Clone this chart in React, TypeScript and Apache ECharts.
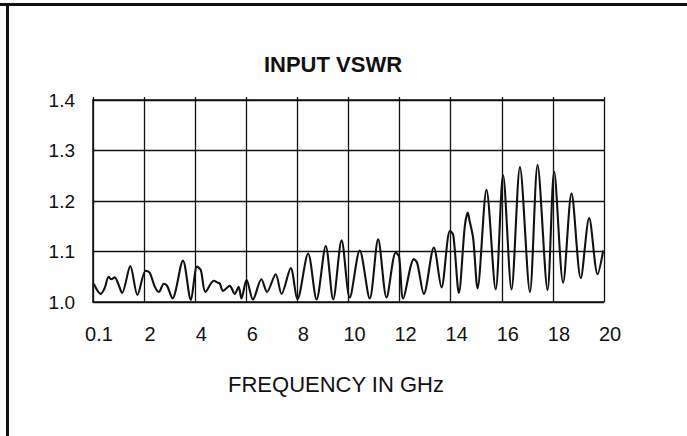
import React, { useEffect, useRef } from "react";
import * as echarts from "echarts";

const titleText = "INPUT VSWR";
const xAxisTitle = "FREQUENCY IN GHz";
const xTicks = [0, 2, 4, 6, 8, 10, 12, 14, 16, 18, 20];
const xTickLabels = ["0.1", "2", "4", "6", "8", "10", "12", "14", "16", "18", "20"];
const yTickLabels = ["1.0", "1.1", "1.2", "1.3", "1.4"];

// frequency (GHz, first grid line = 0.1 GHz) and VSWR
const freqGHz = [
  0.03, 0.3, 0.46, 0.61, 0.72, 0.85, 0.98, 1.14, 1.46, 1.74,
  2.06, 2.22, 2.42, 2.58, 2.77, 2.9, 3.11, 3.52, 3.83, 4.07,
  4.22, 4.4, 4.73, 4.89, 4.96, 5.09, 5.35, 5.55, 5.7, 5.81,
  6.01, 6.26, 6.59, 6.81, 7.15, 7.38, 7.74, 8.0, 8.42, 8.75,
  9.11, 9.4, 9.73, 10.05, 10.44, 10.83, 11.16, 11.49, 11.85, 11.98,
  12.14, 12.56, 12.69, 12.95, 13.34, 13.64, 13.97, 14.1, 14.32, 14.55,
  14.67, 14.73, 14.88, 15.05, 15.4, 15.76, 16.05, 16.38, 16.71, 17.1,
  17.4, 17.79, 18.05, 18.4, 18.73, 19.09, 19.42, 19.75, 19.97,
];
const vswr = [
  1.036, 1.016, 1.028, 1.05, 1.045, 1.049, 1.037, 1.018, 1.071, 1.014,
  1.062, 1.058, 1.03, 1.02, 1.036, 1.032, 1.007, 1.082, 1.004, 1.07,
  1.063, 1.02, 1.042, 1.038, 1.037, 1.022, 1.032, 1.016, 1.03, 1.007,
  1.044, 1.005, 1.045, 1.02, 1.055, 1.016, 1.067, 1.005, 1.096, 1.005,
  1.111, 1.005, 1.122, 1.009, 1.102, 1.007, 1.124, 1.009, 1.098, 1.09,
  1.007, 1.085, 1.077, 1.016, 1.108, 1.029, 1.141, 1.133, 1.018, 1.149,
  1.177, 1.163, 1.126, 1.027, 1.222, 1.025, 1.251, 1.025, 1.267, 1.02,
  1.271, 1.024, 1.258, 1.038, 1.215, 1.047, 1.166, 1.055, 1.102,
];

const FONT = "'Liberation Sans', Arial, sans-serif";
const INK = "#111";

export default function App() {
  const ref = useRef<HTMLDivElement>(null);

  useEffect(() => {
    if (!ref.current) return;
    const chart = echarts.init(ref.current, null, { renderer: "svg" });
    const data = freqGHz.map((f, i) => [f, vswr[i]]);
    const xLabel = (v: number) => {
      const idx = xTicks.indexOf(v);
      return idx >= 0 ? xTickLabels[idx] : "";
    };
    chart.setOption({
      animation: false,
      backgroundColor: "#fff",
      grid: { left: 93, top: 100, width: 511, height: 202, containLabel: false },
      xAxis: [
        {
          type: "value",
          min: 0,
          max: 20,
          interval: 2,
          position: "bottom",
          axisLine: { show: true, lineStyle: { color: INK, width: 1.5 } },
          axisTick: { show: false },
          splitLine: { show: true, lineStyle: { color: INK, width: 1.3 } },
          axisLabel: {
            formatter: xLabel,
            color: INK,
            fontSize: 20,
            fontFamily: FONT,
            margin: 22,
            padding: [0, 0, 0, 12],
            showMinLabel: true,
            showMaxLabel: true,
          },
        },
        {
          type: "value",
          min: 0,
          max: 20,
          interval: 2,
          position: "top",
          axisLine: { show: true, lineStyle: { color: INK, width: 1.5 } },
          axisTick: { show: true, length: 3, lineStyle: { color: INK, width: 1.3 } },
          axisLabel: { show: false },
          splitLine: { show: false },
        },
      ],
      yAxis: {
        type: "value",
        min: 1.0,
        max: 1.4,
        interval: 0.1,
        axisLine: { show: true, lineStyle: { color: INK, width: 1.5 } },
        axisTick: { show: false },
        splitLine: { show: true, lineStyle: { color: INK, width: 1.3 } },
        axisLabel: {
          formatter: (v: number) => {
            const i = Math.round((v - 1.0) / 0.1);
            return yTickLabels[i] ?? "";
          },
          color: INK,
          fontSize: 19,
          fontFamily: FONT,
          margin: 18,
        },
      },
      series: [
        {
          type: "line",
          xAxisIndex: 0,
          data,
          smooth: 0.3,
          showSymbol: false,
          symbol: "none",
          lineStyle: { color: INK, width: 2.1 },
        },
      ],
      graphic: [
        {
          type: "line",
          shape: { x1: 0, y1: 4.5, x2: 687, y2: 4.5 },
          style: { stroke: INK, lineWidth: 3 },
        },
        {
          type: "line",
          shape: { x1: 7.5, y1: 3, x2: 7.5, y2: 436 },
          style: { stroke: INK, lineWidth: 3 },
        },
        {
          type: "text",
          x: 333,
          y: 64,
          style: {
            text: titleText,
            align: "center",
            verticalAlign: "middle",
            fill: INK,
            font: `bold 22px ${FONT}`,
          },
        },
        {
          type: "text",
          x: 336,
          y: 384,
          style: {
            text: xAxisTitle,
            align: "center",
            verticalAlign: "middle",
            fill: INK,
            font: `22px ${FONT}`,
          },
        },
      ],
    });
    return () => chart.dispose();
  }, []);

  return (
    <div
      ref={ref}
      style={{ position: "fixed", left: 0, top: 0, width: 687, height: 436, background: "#fff" }}
    />
  );
}
